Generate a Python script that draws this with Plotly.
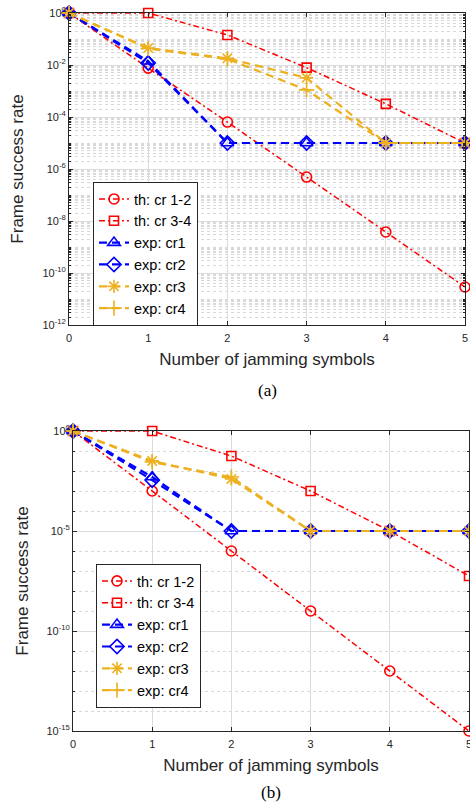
import plotly.graph_objects as go

# ---------------- data ----------------
x_jam = [0, 1, 2, 3, 4, 5]

# (a)
a_th_cr12 = [1, 7.6e-3, 6.4e-5, 4.9e-7, 3.8e-9, 2.9e-11]
a_th_cr34 = [1, 1, 1.43e-1, 7.9e-3, 3.2e-4, 1e-5]
a_exp_cr1 = [1, 1.4e-2, 1e-5, 1e-5, 1e-5, 1e-5]
a_exp_cr2 = [1, 1.2e-2, 1e-5, 1e-5, 1e-5, 1e-5]
a_exp_cr3 = [1, 4.5e-2, 1.8e-2, 3.2e-3, 1e-5, 1e-5]
a_exp_cr4 = [1, 4.3e-2, 1.7e-2, 1.1e-3, 1e-5, 1e-5]

# (b)
b_th_cr12 = [1, 1e-3, 1e-6, 1e-9, 1e-12, 1e-15]
b_th_cr34 = [1, 1, 5.6e-2, 1e-3, 1e-5, 5.6e-8]
b_exp_cr1 = [1, 5e-3, 1e-5, 1e-5, 1e-5, 1e-5]
b_exp_cr2 = [1, 3.5e-3, 1e-5, 1e-5, 1e-5, 1e-5]
b_exp_cr3 = [1, 3.2e-2, 4e-3, 1e-5, 1e-5, 1e-5]
b_exp_cr4 = [1, 2.8e-2, 5e-3, 1e-5, 1e-5, 1e-5]

names = ["th: cr 1-2", "th: cr 3-4", "exp: cr1", "exp: cr2", "exp: cr3", "exp: cr4"]
a_ticks_exp = [0, -2, -4, -6, -8, -10, -12]
b_ticks_exp = [0, -5, -10, -15]
x_ticks = [0, 1, 2, 3, 4, 5]

# ---------------- styles ----------------
RED = "#FF0000"
BLUE = "#0000FF"
YEL = "#EDB120"
AX = "#262626"
GRID = "#DCDCDC"
MGRID = "#D8D8D8"
FONT = "Liberation Sans"

styles = [
    dict(color=RED, dash="6px,3px,2px,3px", width=1.5, symbol="circle-open", size=10),
    dict(color=RED, dash="6px,3px,2px,3px", width=1.5, symbol="square-open", size=9),
    dict(color=BLUE, dash="8px,5px", width=2.2, symbol="triangle-up-open", size=11),
    dict(color=BLUE, dash="8px,5px", width=2.2, symbol="diamond-open", size=11),
    dict(color=YEL, dash="8px,5px", width=2.2, symbol="asterisk-open", size=11),
    dict(color=YEL, dash="8px,5px", width=2.2, symbol="cross-thin-open", size=11),
]

fig = go.Figure()

def add_set(series, xa, ya, leg):
    for name, ys, st in zip(names, series, styles):
        fig.add_trace(go.Scatter(
            x=x_jam, y=ys, name=name, mode="lines+markers",
            xaxis=xa, yaxis=ya, legend=leg, cliponaxis=False,
            line=dict(color=st["color"], dash=st["dash"], width=st["width"]),
            marker=dict(symbol=st["symbol"], size=st["size"], color=st["color"],
                        line=dict(color=st["color"], width=1.6)),
        ))

add_set([a_th_cr12, a_th_cr34, a_exp_cr1, a_exp_cr2, a_exp_cr3, a_exp_cr4], "x", "y", "legend")
add_set([b_th_cr12, b_th_cr34, b_exp_cr1, b_exp_cr2, b_exp_cr3, b_exp_cr4], "x2", "y2", "legend2")

# body margin is removed by post_script, so figure pixel = screen pixel
W, H = 470, 806
def px(p):
    return p / W
def py(p):
    return (H - p) / H
def dom_x(l, r):
    return [px(l), px(r)]
def dom_y(top, bot):
    return [py(bot), py(top)]

a_minor = [k * 10 ** n for n in range(-12, 0) for k in range(1, 10)]
b_minor = [10 ** n for n in range(-15, 1)]

xcommon = dict(
    range=[0, 5], tickvals=x_ticks, ticktext=[str(v) for v in x_ticks],
    showline=True, linecolor=AX, linewidth=1, mirror="all",
    ticks="inside", ticklen=4, tickcolor=AX, automargin=False,
    showgrid=True, gridcolor=GRID, gridwidth=1, zeroline=False,
    ticklabelstandoff=3, ticklabeloverflow="allow",
    tickfont=dict(family=FONT, size=11, color=AX),
    title=dict(text="Number of jamming symbols", font=dict(family=FONT, size=17, color=AX), standoff=9),
)

def ycommon(rng, exps, minor_vals, top, bot, stand):
    return dict(
        domain=dom_y(top, bot), type="log", range=rng, automargin=False,
        tickvals=[10 ** e for e in exps],
        ticktext=["10<sup>%d</sup>" % e for e in exps],
        showline=True, linecolor=AX, linewidth=1, mirror="all",
        ticks="inside", ticklen=4, tickcolor=AX, ticklabeloverflow="allow",
        showgrid=True, gridcolor=GRID, gridwidth=1, zeroline=False,
        minor=dict(tickvals=minor_vals, showgrid=True, griddash="dot", gridcolor=MGRID,
                   ticks="inside", ticklen=2, tickcolor=AX),
        tickfont=dict(family=FONT, size=11, color=AX),
        title=dict(text="Frame success rate", font=dict(family=FONT, size=17, color=AX), standoff=stand),
    )

legcommon = dict(
    xanchor="left", yanchor="top",
    bgcolor="white", bordercolor=AX, borderwidth=1,
    font=dict(family=FONT, size=14.5, color="black"),
    tracegroupgap=0, itemwidth=30,
)

fig.update_layout(
    width=W, height=H, margin=dict(l=0, r=0, t=0, b=0),
    paper_bgcolor="white", plot_bgcolor="white",
    showlegend=True,
    xaxis=dict(domain=dom_x(69, 465), anchor="y", **xcommon),
    xaxis2=dict(domain=dom_x(73, 469), anchor="y2", **xcommon),
    yaxis=dict(anchor="x", **ycommon([-12, 0], a_ticks_exp, a_minor, 13, 325, 14)),
    yaxis2=dict(anchor="x2", **ycommon([-15, 0], b_ticks_exp, b_minor, 431, 731, 13)),
    legend=dict(x=px(93), y=py(182), **legcommon),
    legend2=dict(x=px(96), y=py(564), **legcommon),
    annotations=[
        dict(text="(a)", x=px((69 + 465) / 2), y=py(390), xref="paper", yref="paper",
             xanchor="center", yanchor="middle", showarrow=False,
             font=dict(family="Liberation Serif", size=17, color="black")),
        dict(text="(b)", x=px((73 + 469) / 2), y=py(792), xref="paper", yref="paper",
             xanchor="center", yanchor="middle", showarrow=False,
             font=dict(family="Liberation Serif", size=17, color="black")),
    ],
)

fig.write_html(
    "out.html",
    config={"displayModeBar": False},
    post_script="document.body.style.margin='0';document.body.style.overflow='hidden';",
)
